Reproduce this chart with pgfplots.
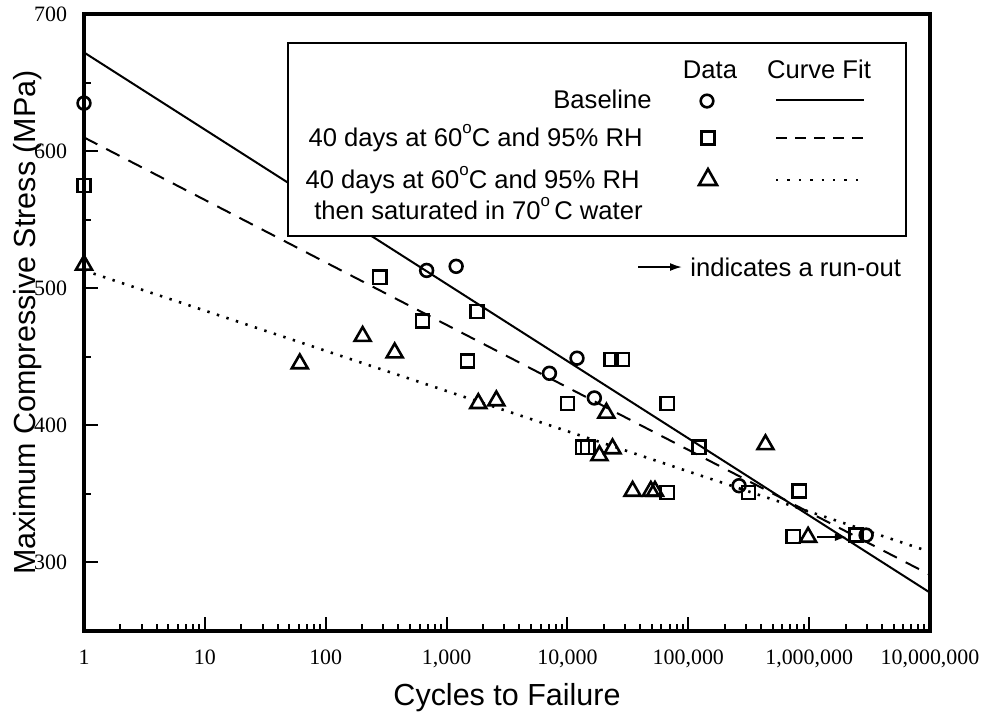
\documentclass[border=0pt]{standalone}
\usepackage{fontspec}
\setmainfont{Liberation Sans}
\newfontfamily\serifnum{Liberation Serif}
\usepackage{pgfplots}
\pgfplotsset{compat=1.18}
\usetikzlibrary{arrows.meta}

\pgfplotstableread{
N S
1 635
684 513
1200 516
7100 438
12000 449
16700 420
263000 356
2960000 320
}\baseline

\pgfplotstableread{
N S
1 575
280 508
633 476
1490 447
1780 483
10000 416
13300 384
14700 384
23000 448
28400 448
67000 416
67000 351
123000 384
315000 351
740000 319
830000 352
2450000 320
}\humid

\pgfplotstableread{
N S
1 517
61 445
202 465
372 453
1830 416
2580 418
18400 378
21000 409
23600 383
34600 352
49000 352
53000 352
435000 386
980000 318.5
}\saturated

\pgfplotstableread{
N S
1 672
10000000 278
}\fitbase

\pgfplotstableread{
N S
1 610
10000000 291
}\fithumid

\pgfplotstableread{
N S
1 513
10000000 307.8
}\fitsat

\newcommand{\degsym}{\raisebox{0.95ex}{\fontsize{8.5}{8.5}\selectfont o}}

\begin{document}
\begin{tikzpicture}
\begin{scope}[x=0.5bp,y=-0.5bp,shift={(-42bp,315.5bp)}]
\path[use as bounding box] (0,0) rectangle (988,715);
\end{scope}
\begin{axis}[
  at={(0,0)}, anchor=south west,
  scale only axis, width=423bp, height=308.5bp,
  xmode=log, xmin=1, xmax=1e7, ymin=250, ymax=700,
  xtick={1,10,100,1000,10000,100000,1000000,10000000},
  xticklabels={1,10,100,{1,000},{10,000},{100,000},{1,000,000},{10,000,000}},
  ytick={300,400,500,600,700},
  minor ytick={350,450,550,650},
  xtick pos=bottom, ytick pos=left, tick align=inside,
  major tick length=7bp, minor tick length=3.5bp,
  every tick/.style={black, line width=1bp},
  axis line style={line width=1.7bp},
  ticklabel style={font=\serifnum\fontsize{11}{13}\selectfont},
  xticklabel style={yshift=-6bp},
  yticklabel style={xshift=-5bp},
  /pgf/number format/assume math mode=true,
  xlabel={Cycles to Failure},
  ylabel={Maximum Compressive Stress (MPa)},
  label style={font=\fontsize{15.3}{18}\selectfont},
  xlabel style={at={(axis description cs:0.5,-0.12)}, anchor=base},
  ylabel style={at={(axis description cs:-0.0579,0.5)}, anchor=base},
]
\addplot[black, line width=1bp] table[x=N,y=S] {\fitbase};
\addplot[black, line width=1bp, dash pattern=on 7.5bp off 5bp] table[x=N,y=S] {\fithumid};
\addplot[black, line width=1.3bp, dash pattern=on 1.2bp off 3.8bp] table[x=N,y=S] {\fitsat};
\addplot[only marks, mark=o, mark size=3.2bp, mark options={black, line width=1.3bp, solid}] table[x=N,y=S] {\baseline};
\addplot[only marks, mark=square, mark size=3.3bp, mark options={black, line width=1.3bp, solid}] table[x=N,y=S] {\humid};
\addplot[only marks, mark=triangle, mark size=4.6bp, mark options={black, line width=1.3bp, solid}] table[x=N,y=S] {\saturated};
\draw[black, line width=0.9bp, -{Latex[length=6bp,width=4bp]}] (axis cs:1.16e6,318.5) -- (axis cs:2.05e6,318.5);
\end{axis}
\begin{scope}[x=0.5bp,y=-0.5bp,shift={(-42bp,315.5bp)}, every node/.style={inner sep=0pt, font=\fontsize{12.85}{16}\selectfont}]
\draw[line width=1bp, fill=white] (288,43) rectangle (906,236);
\node[anchor=base] at (710,78) {Data};
\node[anchor=base] at (819,78) {Curve Fit};
\node[anchor=base east] at (652,108) {Baseline};
\node[anchor=base east] at (643,146) {40 days at 60\degsym C and 95\% RH};
\node[anchor=base east] at (640,188) {40 days at 60\degsym C and 95\% RH};
\node[anchor=base east] at (643,219) {then saturated in 70\degsym\,C water};
\draw[line width=1.3bp] (707,101) circle (6.3);
\draw[line width=1.3bp] (701.5,131.5) rectangle (714.5,144.5);
\draw[line width=1.3bp] (708,169) -- (717,185) -- (699,185) -- cycle;
\draw[line width=1bp] (776,100) -- (864,100);
\draw[line width=1bp, dash pattern=on 5.5bp off 4bp] (776,138) -- (864,138);
\draw[line width=1.3bp, dash pattern=on 1.2bp off 4.5bp] (776,180) -- (860,180);
\draw[line width=0.9bp, -{Latex[length=6bp,width=4bp]}] (638,267) -- (682,267);
\node[anchor=west] at (690,267) {indicates a run-out};
\end{scope}
\end{tikzpicture}
\end{document}
